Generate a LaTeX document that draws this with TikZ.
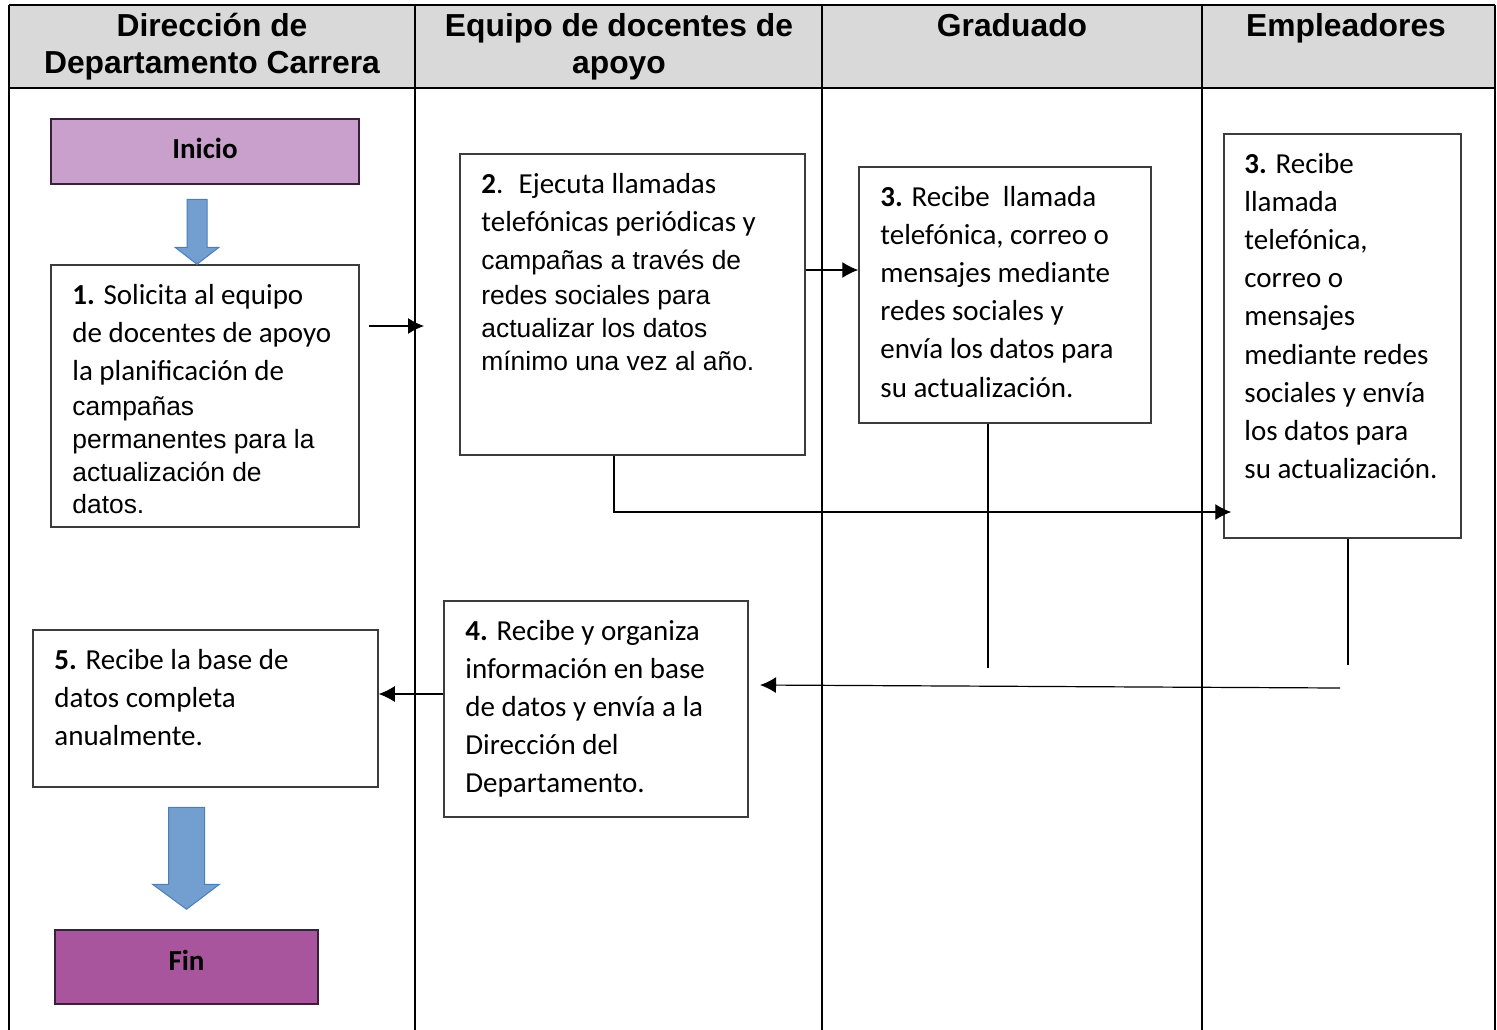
\documentclass[tikz,border=0pt]{standalone}
\usepackage{fontspec}
\setmainfont{Liberation Sans}
\newfontfamily\fcal{Carlito}
\newfontfamily\fari{Liberation Sans}
\usetikzlibrary{fit,arrows.meta,calc}
\definecolor{hdr}{HTML}{D9D9D9}
\definecolor{boxline}{HTML}{3C3C3C}
\definecolor{inifill}{HTML}{C8A0CB}
\definecolor{finfill}{HTML}{A8559E}
\definecolor{purpline}{HTML}{3A1F38}
\definecolor{bluefill}{HTML}{729FCF}
\definecolor{blueline}{HTML}{4A7EBB}
\newcommand\Lc[2]{{\fontsize{14.5}{#1}\fcal #2\par}}
\newcommand\La[2]{{\fontsize{13.2}{#1}\fari #2\par}}
\newcommand\Tx[1]{\parbox[t]{300pt}{\raggedright #1}}
\begin{document}
\begin{tikzpicture}[x=0.5pt,y=-0.5pt,
  box/.style={draw=boxline,line width=0.75pt,inner sep=0pt,fill=white},
  term/.style={draw=purpline,line width=0.75pt,inner sep=0pt,font=\fcal\fontsize{14.5}{17}\selectfont\bfseries},
  txt/.style={anchor=base west,inner sep=0pt},
  conn/.style={draw=black,line width=0.6pt},
  tip/.style={-{Latex[length=8pt,width=8pt]}},
  lane/.style={draw=black,line width=0.75pt},
  hd/.style={anchor=base,inner sep=0pt,font=\fontsize{15.9}{18.5}\selectfont\bfseries},
  blk/.style={fill=bluefill,draw=blueline,line width=0.5pt}]
\useasboundingbox (0,0) rectangle (1497,1029);
% header and lanes
\fill[hdr] (9,5) rectangle (1495,88);
\draw[lane] (9,5) -- (1495,5);
\draw[lane] (9,88) -- (1495,88);
\foreach \xx in {9,415,822,1202,1495} \draw[lane] (\xx,5) -- (\xx,1035);
\node[hd] (h1) at (212,36) {\parbox[t]{220pt}{\centering Dirección de\\Departamento Carrera}};
\node[hd] (h2) at (619,36) {\parbox[t]{220pt}{\centering Equipo de docentes de\\apoyo}};
\node[hd] (h3) at (1012,36) {Graduado};
\node[hd] (h4) at (1346,36) {Empleadores};
% terminals
\node[term,fill=inifill,fit={(51,119)(359,184)}] (ini) {};
\node[font=\fcal\fontsize{14.5}{17}\selectfont\bfseries,inner sep=0pt] (tini) at ($(ini.center)+(0,-3)$) {Inicio};
\node[term,fill=finfill,fit={(55,930)(318,1004)}] (fin) {};
\node[font=\fcal\fontsize{14.5}{17}\selectfont\bfseries,inner sep=0pt] (tfin) at ($(fin.center)+(0,-7)$) {Fin};
% boxes
\node[box,fit={(51,265)(359,527)}] (b1) {};
\node[box,fit={(460,154)(805,455)}] (b2) {};
\node[box,fit={(859,167)(1151,423)}] (b3) {};
\node[box,fit={(1224,134)(1461,538)}] (b3b) {};
\node[box,fit={(444,601)(748,817)}] (b4) {};
\node[box,fit={(33,630)(378,787)}] (b5) {};
% texts
\node[txt] (t1) at (72,304) {\Tx{%
  \Lc{19pt}{\textbf{1.} Solicita al equipo}%
  \Lc{19pt}{de docentes de apoyo}%
  \Lc{19pt}{la planificación de}%
  \La{17.5pt}{campañas}%
  \La{16.5pt}{permanentes para la}%
  \La{16.5pt}{actualización de}%
  \La{16pt}{datos.}}};
\node[txt] (t2) at (481,193) {\Tx{%
  \Lc{19pt}{\textbf{2}.~ Ejecuta llamadas}%
  \Lc{19pt}{telefónicas periódicas y}%
  \La{19pt}{campañas a través de}%
  \La{17.5pt}{redes sociales para}%
  \La{16.5pt}{actualizar los datos}%
  \La{16.5pt}{mínimo una vez al año.}}};
\node[txt] (t3) at (880,206) {\Tx{%
  \Lc{19.1pt}{\textbf{3.} Recibe~ llamada}%
  \Lc{19.1pt}{telefónica, correo o}%
  \Lc{19.1pt}{mensajes mediante}%
  \Lc{19.1pt}{redes sociales y}%
  \Lc{19.1pt}{envía los datos para}%
  \Lc{19.1pt}{su actualización.}}};
\node[txt] (t3b) at (1244,173) {\Tx{%
  \Lc{19.1pt}{\textbf{3.} Recibe}%
  \Lc{19.1pt}{llamada}%
  \Lc{19.1pt}{telefónica,}%
  \Lc{19.1pt}{correo o}%
  \Lc{19.1pt}{mensajes}%
  \Lc{19.1pt}{mediante redes}%
  \Lc{19.1pt}{sociales y envía}%
  \Lc{19.1pt}{los datos para}%
  \Lc{19.1pt}{su actualización.}}};
\node[txt] (t4) at (465,640) {\Tx{%
  \Lc{19.1pt}{\textbf{4.} Recibe y organiza}%
  \Lc{19.1pt}{información en base}%
  \Lc{19.1pt}{de datos y envía a la}%
  \Lc{19.1pt}{Dirección del}%
  \Lc{19.1pt}{Departamento.}}};
\node[txt] (t5) at (54,669) {\Tx{%
  \Lc{19.1pt}{\textbf{5.} Recibe la base de}%
  \Lc{19.1pt}{datos completa}%
  \Lc{19.1pt}{anualmente.}}};
% block arrows
\coordinate (k1) at ($(b1.north)+(-8,0)$);
\draw[blk] ($(k1)+(-10,-65)$) -- ++(20,0) -- ++(0,48) -- ++(12,0) -- (k1) -- ++(-22,-17) -- ++(12,0) -- cycle;
\coordinate (k2) at ($(fin.north)+(0,-20)$);
\draw[blk] ($(k2)+(-18,-102)$) -- ++(36,0) -- ++(0,77) -- ++(15,0) -- (k2) -- ++(-34,-25) -- ++(16,0) -- cycle;
% connectors
\coordinate (c1a) at (369,326);
\coordinate (c1b) at (424,326);
\draw[conn,tip] (c1a) -- (c1b);
\coordinate (c2) at (0,270);
\draw[conn,tip] (b2.east |- c2) -- (b3.west |- c2);
\coordinate (c3) at (614,512);
\draw[conn,tip] (b2.south -| c3) -- (c3) -- ([xshift=4pt]b3b.west |- c3);
\coordinate (c4) at (988,668);
\draw[conn] (b3.south -| c4) -- (c4);
\coordinate (c5) at (1348,665);
\draw[conn] (b3b.south -| c5) -- (c5);
\coordinate (c6a) at (1340,688);
\coordinate (c6b) at (760,685);
\draw[conn,tip] (c6a) -- (c6b);
\coordinate (c7) at (0,694);
\draw[conn,tip] (b4.west |- c7) -- (b5.east |- c7);
\end{tikzpicture}
\end{document}
